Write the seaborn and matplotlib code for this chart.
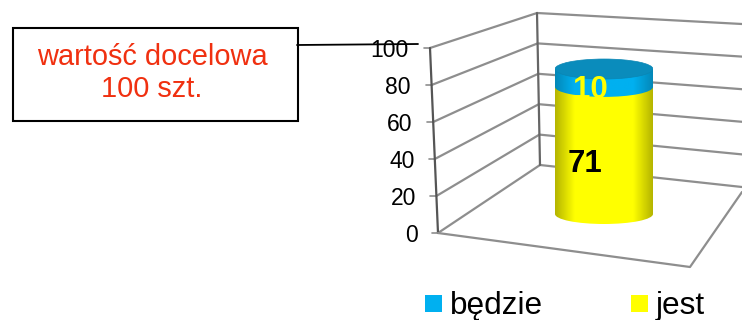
import numpy as np
import seaborn as sns
import matplotlib.pyplot as plt
from matplotlib.colors import LinearSegmentedColormap
from matplotlib.patches import Ellipse, PathPatch, Rectangle
from matplotlib.path import Path
from matplotlib.transforms import Affine2D

# data
series = ["jest", "będzie"]
values = [71, 10]
colors = ["#ffff00", "#00b0f0"]
edge_colors = ["#b4b400", "#0488b8"]
y_ticks = [0, 20, 40, 60, 80, 100]
category = ["stan"]
callout = "wartość docelowa\n100 szt."

sns.set_theme(style="white")
plt.rcParams["font.family"] = ["Liberation Sans", "DejaVu Sans"]

W, H = 742, 320
fig = plt.figure(figsize=(W / 100, H / 100), dpi=100)

# background axes in pixels, for the fake 3d frame, callout and legend
bg = fig.add_axes([0, 0, 1, 1])
bg.set_xlim(0, W)
bg.set_ylim(H, 0)
bg.axis("off")

grid = "#8e8e8e"
for t in y_ticks:
    f = t / 100
    fx, fy = 438 - 8 * f, 233 - 185 * f
    bx, by = 540 - 3 * f, 165 - 152 * f
    rx, ry = 742, 187 - 163 * f
    bg.plot([fx, bx, rx], [fy, by, ry], color=grid, lw=1.6, solid_capstyle="round")
    bg.plot([fx - 6, fx], [fy, fy], color=grid, lw=1.2)
    bg.text(fx - 21 + (1 - f), fy + 2.5, str(t), ha="right", va="center", fontsize=16.5, color="black")

# wall edges and floor
bg.plot([430, 438], [48, 233], color="#555555", lw=1.6)
bg.plot([537, 540], [13, 165], color="#666666", lw=1.6)
bg.plot([438, 690, 742], [233, 267, 192], color=grid, lw=1.6)

# callout
bg.add_patch(Rectangle((13, 28), 285, 93, fc="white", ec="black", lw=1.5))
bg.plot([297, 418], [45, 44], color="black", lw=1.3)
bg.text(152, 73, callout, color="#f03010", ha="center", va="center", fontsize=20.9, linespacing=1.17)

# legend
for name, col, sq_x, tx_x in zip(series, colors, [631, 425], [656, 450]):
    bg.add_patch(Rectangle((sq_x, 295), 17, 17, fc=col, ec="none"))
    bg.text(tx_x, 314, name, fontsize=22.7, color="black", ha="left", va="baseline")

# cylinder axes, stacked bars on a 0-100 scale
px_per_unit = 1.79
y0 = 214
ry_units = 10 / px_per_unit
low = -10
ax = fig.add_axes([555 / W, 1 - (y0 - low * px_per_unit) / H, 98 / W, 110 * px_per_unit / H])
ax.patch.set_alpha(0)

bottom = 0
for val, col in zip(values, colors):
    sns.barplot(x=category, y=[val], bottom=bottom, width=1, color=col, saturation=1, ax=ax)
    bottom += val

xs = np.linspace(0, 1, 256).reshape(1, -1)
for bar, col, edge in zip(ax.patches, colors, edge_colors):
    x, y, w, h = bar.get_x(), bar.get_y(), bar.get_width(), bar.get_height()
    cmap = LinearSegmentedColormap.from_list("c", [(0, edge), (0.2, col), (0.8, col), (1, edge)])
    body = Path.unit_rectangle().transformed(Affine2D().scale(w, h).translate(x, y))
    low_end = Ellipse((x + w / 2, y), w, 2 * ry_units)
    foot = low_end.get_path().transformed(low_end.get_patch_transform())
    clip = PathPatch(Path.make_compound_path(body, foot), transform=ax.transData, fc="none", ec="none")
    ax.add_patch(clip)
    im = ax.imshow(xs, extent=(x, x + w, y - ry_units, y + h), cmap=cmap, aspect="auto", zorder=3)
    im.set_clip_path(clip)
    bar.set_visible(False)

top = sum(values)
ax.add_patch(Ellipse((0, top), 1, 2 * ry_units, fc="#0a8cbc", ec="#0a86b4", lw=0.5, zorder=4))

ax.set_xlim(-0.5, 0.5)
ax.set_ylim(low, 100)
ax.axis("off")

# value labels
ax.text(-0.19, values[0] * 0.5 - 7.5, str(values[0]), color="black", fontweight="bold", fontsize=22.5, ha="center", va="center", zorder=5)
ax.text(-0.14, values[0] + values[1] * 0.5 - 7, str(values[1]), color="#ffff00", fontweight="bold", fontsize=22.5, ha="center", va="center", zorder=5)

fig.savefig("out.png", dpi=100)
